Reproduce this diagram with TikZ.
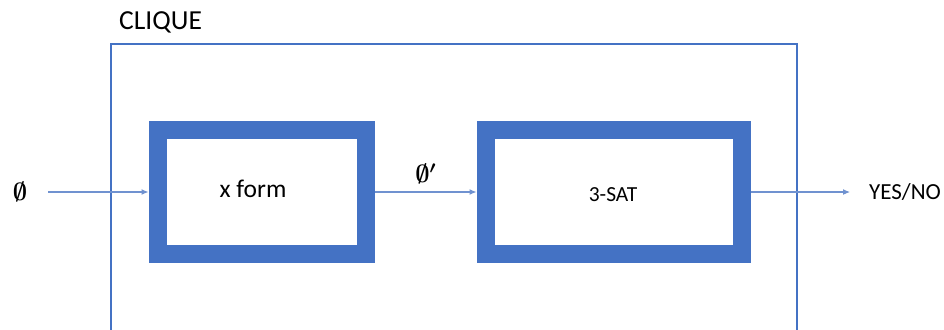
\documentclass[tikz,border=0pt]{standalone}
\usepackage{fontspec}
\setmainfont{Carlito}
\usetikzlibrary{arrows.meta}
\definecolor{officeblue}{RGB}{68,114,196}
\definecolor{flowblue}{RGB}{112,146,208}
\tikzset{
  stage/.style={draw=officeblue, line width=18pt, fill=white, inner sep=0pt},
  frame/.style={draw=officeblue, line width=2.5pt},
  flow/.style={draw=flowblue, line width=1.1pt, -{Latex[length=7pt,width=6pt]}},
  txt/.style={inner sep=0pt, text=black},
  sym/.style={txt, font=\fontsize{27}{30}\selectfont\boldmath},
}
\begin{document}
\begin{tikzpicture}[x=1pt,y=-1pt]
  \clip (0,0) rectangle (944,329);
  \fill[white] (0,0) rectangle (944,329);
  % enclosing CLIQUE block (runs off the bottom edge)
  \draw[frame] (111,44) rectangle (797,331);
  \node[txt, anchor=west, font=\fontsize{27.5}{30}\selectfont] (clique) at (119,22.5) {CLIQUE};
  % the two stages
  \node[stage, minimum width=208.5pt, minimum height=124pt] (xf) at (261.75,192) {};
  \node[txt, font=\fontsize{25.5}{28}\selectfont] (xftext) at (253,189) {x form};
  \node[stage, minimum width=256pt, minimum height=124pt] (sat) at (613.5,192) {};
  \node[txt, font=\fontsize{21.5}{24}\selectfont] (sattext) at (613,195) {3-SAT};
  % input, output
  \node[sym] (phi) at (20,192) {$\emptyset$};
  \coordinate (in) at (48,192);
  \node[txt, anchor=west, font=\fontsize{23}{26}\selectfont] (yn) at (869,192) {YES/NO};
  % connectors
  \draw[flow] (in) -- (xf);
  \draw[flow] (xf) -- node[sym, above=8pt] (phiprime) {$\emptyset'$} (sat);
  \draw[flow, shorten >=19pt] (sat) -- (yn.west);
\end{tikzpicture}
\end{document}
